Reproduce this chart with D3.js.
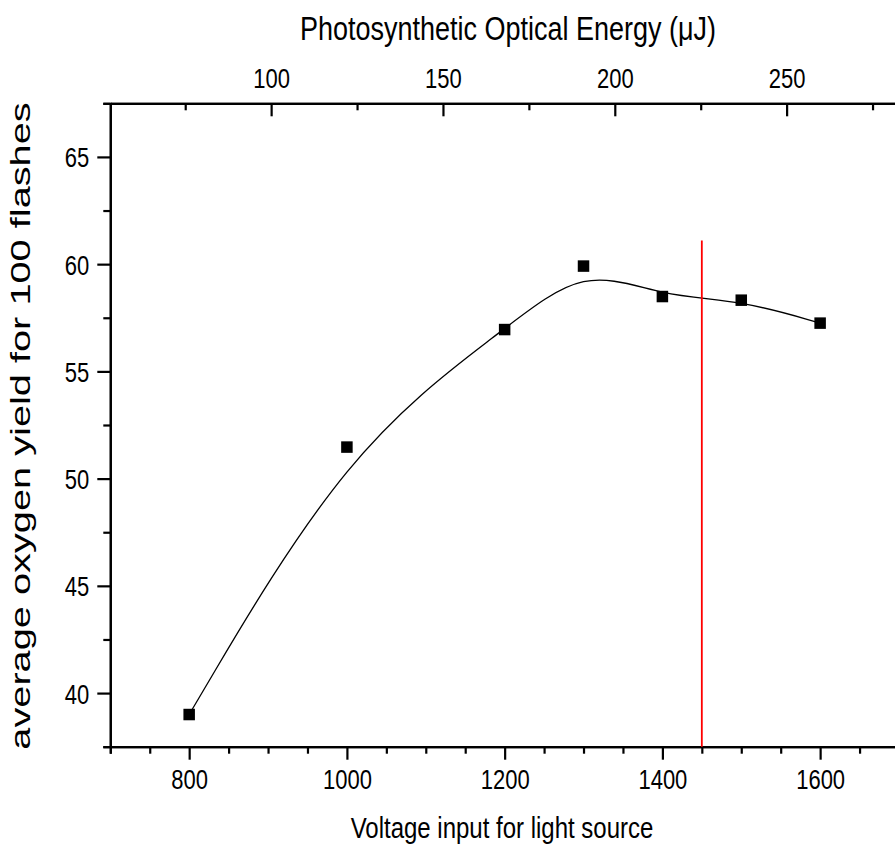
<!DOCTYPE html>
<html><head><meta charset="utf-8">
<script src="https://cdn.jsdelivr.net/npm/d3@7"></script>
<style>
body{margin:0;background:#fff}
svg{display:block}
text{font-family:Arial,"Liberation Sans",sans-serif;fill:#000}
</style>
</head><body><svg id="c" width="895" height="847"></svg>
<script>
// ---- data ----
const voltage = [800, 1000, 1200, 1300, 1400, 1500, 1600];
const oxygenYield = [39.0, 51.47, 56.95, 59.91, 58.49, 58.32, 57.25];
const xMajorTicks = [800, 1000, 1200, 1400, 1600];
const xMinorTicks = [700, 750, 850, 900, 950, 1050, 1100, 1150, 1250, 1300, 1350, 1450, 1500, 1550, 1650, 1700];
const yMajorTicks = [40, 45, 50, 55, 60, 65];
const yMinorTicks = [37.5, 42.5, 47.5, 52.5, 57.5, 62.5, 67.5];
const energyMajorTicks = [100, 150, 200, 250];
const energyMinorTicks = [75, 125, 175, 225, 275];
const markerVoltage = [1450, 1450];
const markerYield = [37.5, 61.1];

// ---- layout ----
const svg = d3.select("#c");
const x = d3.scaleLinear([700, 1700], [110.3, 899]);
const y = d3.scaleLinear([37.5, 67.5], [746.7, 103.3]);
const e = d3.scaleLinear([53.2, 282.7], [110.3, 899]);
const FS = 22, SY = 1.25, MAJ = 13, MIN = 7, AW = 2.2;

function style(g){
  g.select(".domain").attr("stroke","#000").attr("stroke-width",AW);
  g.selectAll(".tick line").attr("stroke","#000").attr("stroke-width",AW);
  g.selectAll("text").attr("font-size",FS).attr("fill","#000")
    .attr("font-family","Arial, 'Liberation Sans', sans-serif");
}
function stretch(g, dx, base){
  g.selectAll(".tick text").attr("x",null).attr("y",null).attr("dy",null)
    .attr("transform",`translate(${dx},${base}) scale(1,${SY})`);
}

// bottom axis
svg.append("g").attr("transform",`translate(0,${y.range()[0]})`)
  .call(d3.axisBottom(x).tickValues(xMinorTicks).tickSize(MIN).tickFormat("")).call(style);
svg.append("g").attr("transform",`translate(0,${y.range()[0]})`)
  .call(d3.axisBottom(x).tickValues(xMajorTicks).tickSize(MAJ).tickSizeOuter(0).tickFormat(d3.format("d")))
  .call(style).call(stretch, 0, 42);

// left axis
svg.append("g").attr("transform",`translate(${x.range()[0]},0)`)
  .call(d3.axisLeft(y).tickValues(yMinorTicks).tickSize(MIN).tickFormat("")).call(style);
svg.append("g").attr("transform",`translate(${x.range()[0]},0)`)
  .call(d3.axisLeft(y).tickValues(yMajorTicks).tickSize(MAJ).tickSizeOuter(0).tickFormat(d3.format("d")))
  .call(style).call(stretch, -21, 10);

// top axis (energy), ticks pointing inward
svg.append("g").attr("transform",`translate(0,${y.range()[1]})`)
  .call(d3.axisTop(e).tickValues(energyMinorTicks).tickSize(-MIN).tickSizeOuter(0).tickFormat("")).call(style);
svg.append("g").attr("transform",`translate(0,${y.range()[1]})`)
  .call(d3.axisTop(e).tickValues(energyMajorTicks).tickSize(-MAJ).tickSizeOuter(0).tickFormat(d3.format("d")))
  .call(style).call(stretch, 0, -15);

// titles
svg.append("text").attr("transform","translate(502,838) scale(1,1.25)").attr("text-anchor","middle")
  .attr("font-size",24).text("Voltage input for light source");
svg.append("text").attr("transform","translate(30,426) rotate(-90) scale(1.42,1)").attr("text-anchor","middle")
  .attr("font-size",28).text("average oxygen yield for 100 flashes");
svg.append("text").attr("transform","translate(508,40) scale(1,1.2)").attr("text-anchor","middle")
  .attr("font-size",27).text("Photosynthetic Optical Energy (μJ)");

// curve (B-spline through the data)
const pts = voltage.map((v,i)=>[v, oxygenYield[i]]);
svg.append("path").datum(pts)
  .attr("fill","none").attr("stroke","#000").attr("stroke-width",1.3)
  .attr("d", d3.line().x(d=>x(d[0])).y(d=>y(d[1])).curve(d3.curveBasis));

// red marker line
svg.append("path").datum(markerVoltage.map((v,i)=>[v, markerYield[i]]))
  .attr("fill","none").attr("stroke","#ff0000").attr("stroke-width",1.8)
  .attr("d", d3.line().x(d=>x(d[0])).y(d=>y(d[1])));

// square markers
const S = 11.5;
svg.append("g").selectAll("rect").data(pts).join("rect")
  .attr("x",d=>x(d[0])-S/2).attr("y",d=>y(d[1])-S/2)
  .attr("width",S).attr("height",S).attr("fill","#000");
</script>
</body></html>
